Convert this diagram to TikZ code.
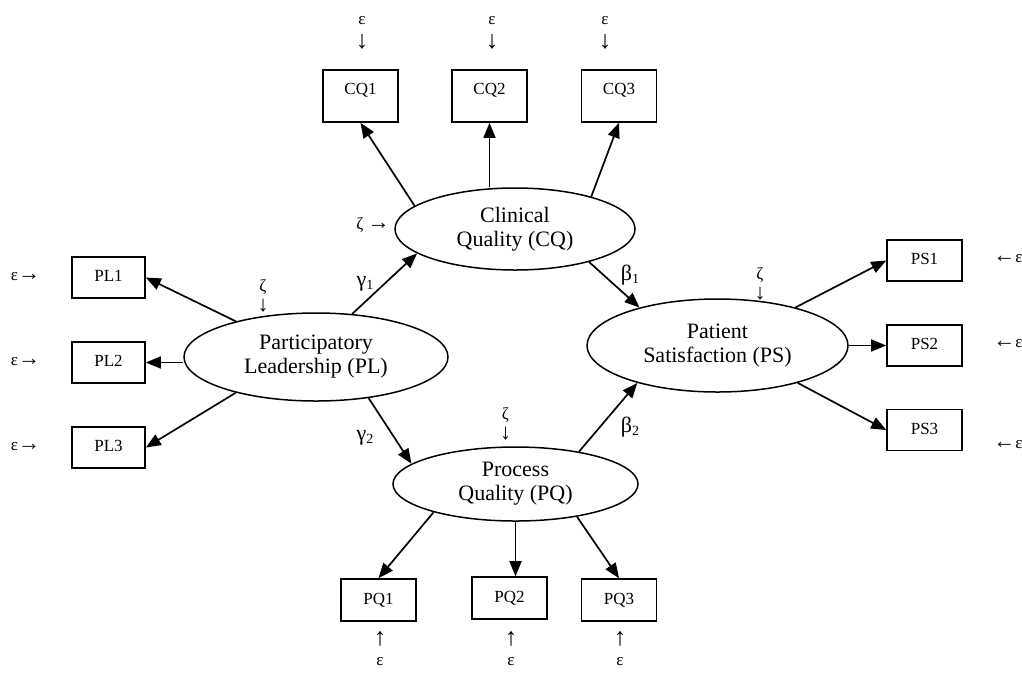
\documentclass[tikz,border=0pt]{standalone}
\usepackage{fontspec}
\setmainfont{Liberation Serif}
\usetikzlibrary{shapes.geometric,arrows.meta}
\newcommand{\coefsub}[1]{\raisebox{-0.3ex}{\fontsize{14}{14}\selectfont #1}}
% arrow glyphs set a little larger than the letters beside them
\newcommand{\arrbig}[1]{{\fontsize{25}{20}\selectfont #1}}
\newcommand{\arrmid}[1]{{\fontsize{22}{20}\selectfont #1}}
\begin{document}
\begin{tikzpicture}[x=1pt,y=-1pt,
  latent/.style={ellipse,draw,line width=1.5pt,inner sep=0pt,align=center,
    font=\fontsize{22}{24}\selectfont},
  obs/.style={rectangle,draw,line width=1.6pt,inner sep=0pt,
    minimum width=75pt,minimum height=41pt,text height=12pt,text depth=4pt,
    font=\fontsize{17}{20}\selectfont},
  obstall/.style={obs,minimum height=52pt,text depth=16pt},
  err/.style={inner sep=0pt,align=center,font=\fontsize{17}{20}\selectfont},
  coef/.style={inner sep=0pt,font=\fontsize{22}{24}\selectfont},
  link/.style={line width=1.7pt,-{Triangle[length=15pt,width=12pt]}}
]
\path[fill=white,use as bounding box] (0,0) rectangle (1022,673);

% latent constructs
\node[latent,minimum width=240pt,minimum height=82pt] (CQ) at (515,229) {Clinical\\Quality (CQ)};
\node[latent,minimum width=264pt,minimum height=88pt] (PL) at (316,357) {Participatory\\Leadership (PL)};
\node[latent,minimum width=261pt,minimum height=93pt] (PS) at (717.5,345.5) {Patient\\Satisfaction (PS)};
\node[latent,minimum width=245pt,minimum height=74pt] (PQ) at (515.5,484) {Process\\Quality (PQ)};

% indicators
\node[obstall] (CQ1) at (360.5,96) {CQ1};
\node[obstall] (CQ2) at (489.5,96) {CQ2};
\node[obstall] (CQ3) at (619,96) {CQ3};
\node[obs,minimum width=73pt] (PL1) at (108.5,277.5) {PL1};
\node[obs,minimum width=73pt] (PL2) at (108.5,362.5) {PL2};
\node[obs,minimum width=73pt] (PL3) at (108.5,447.5) {PL3};
\node[obs] (PS1) at (924.5,260.5) {PS1};
\node[obs] (PS2) at (924.5,345.5) {PS2};
\node[obs] (PS3) at (924.5,430) {PS3};
\node[obs,minimum height=42pt] (PQ1) at (378.5,600) {PQ1};
\node[obs,minimum height=42pt] (PQ2) at (509.5,598) {PQ2};
\node[obs,minimum height=42pt] (PQ3) at (619,600) {PQ3};

% measurement errors
\node[err] (e1) at (362,33) {ε\\[4pt]\arrbig{↓}};
\node[err] (e2) at (492,33) {ε\\[4pt]\arrbig{↓}};
\node[err] (e3) at (605,33) {ε\\[4pt]\arrbig{↓}};
\node[err] (e4) at (25.5,277) {ε\arrmid{→}};
\node[err] (e5) at (25.5,362) {ε\arrmid{→}};
\node[err] (e6) at (25.5,447) {ε\arrmid{→}};
\node[err] (e7) at (1008,259) {\arrmid{←}ε};
\node[err] (e8) at (1008,344) {\arrmid{←}ε};
\node[err] (e9) at (1008,445) {\arrmid{←}ε};
\node[err,font=\fontsize{17}{20}\selectfont] (e10) at (380,649) {\arrbig{↑}\\ε};
\node[err,font=\fontsize{17}{20}\selectfont] (e11) at (511,649) {\arrbig{↑}\\ε};
\node[err,font=\fontsize{17}{20}\selectfont] (e12) at (620,649) {\arrbig{↑}\\ε};

% disturbances
\node[err] (z1) at (373,225.5) {ζ \arrmid{→}};
\node[err] (z2) at (263,296) {ζ\\\arrmid{↓}};
\node[err] (z3) at (760,284) {ζ\\\arrmid{↓}};
\node[err] (z4) at (505.5,424) {ζ\\\arrmid{↓}};

% path coefficients
\node[coef] (g1) at (365,284) {γ\coefsub{1}};
\node[coef] (g2) at (365,438) {γ\coefsub{2}};
\node[coef] (b1) at (630,275) {β\coefsub{1}};
\node[coef] (b2) at (630,427) {β\coefsub{2}};

% loadings
\draw[link] (CQ.167) -- (CQ1.south);
\draw[link] (CQ2.south |- CQ.north) -- (CQ2.south);
\draw[link] (CQ.23) -- (CQ3.south);
\draw[link] (PL.156) -- (PL1.east);
\draw[link] (PL2.east -| PL.west) -- (PL2.east);
\draw[link] (PL.204) -- (PL3.east);
\draw[link] (PS.26) -- (PS1.west);
\draw[link] (PS2.west -| PS.east) -- (PS2.west);
\draw[link] (PS.335) -- (PS3.west);
\draw[link] (PQ.199) -- (PQ1.north);
\draw[link] (PQ.south) -- (PQ.south |- PQ2.north);
\draw[link] (PQ.332) -- (PQ3.north);

% structural paths
\draw[link] (PL.50) -- (CQ.194);
\draw[link] (PL.322) -- (PQ.169);
\draw[link] (CQ.336) -- (PS.154);
\draw[link] (PQ.27) -- (PS.205);
\end{tikzpicture}
\end{document}
